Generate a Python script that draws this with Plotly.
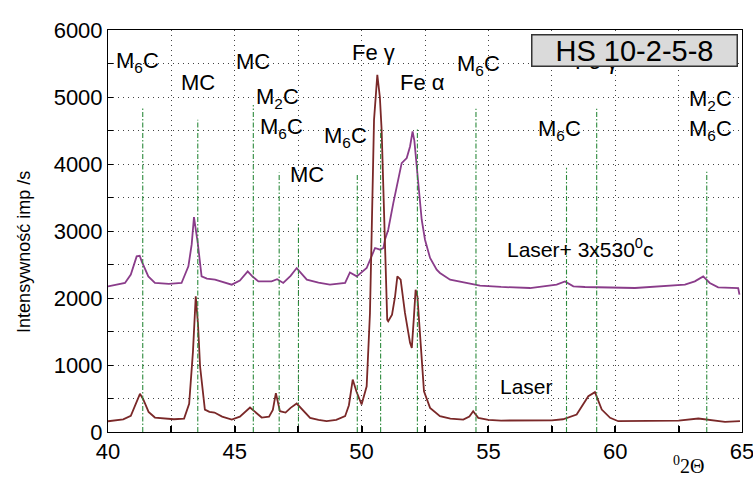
import plotly.graph_objects as go

# ---- data ----
laser_x = [40.0, 40.3, 40.6, 40.9, 41.1, 41.26, 41.4, 41.6, 41.85, 42.2, 42.6, 43.0, 43.2, 43.35, 43.46,
           43.55, 43.63, 43.82, 44.0, 44.2, 44.5, 44.88, 45.2, 45.6, 45.8, 46.06, 46.35, 46.5, 46.62,
           46.7, 46.78, 47.0, 47.2, 47.44, 47.6, 47.97, 48.3, 48.62, 49.0, 49.35, 49.5, 49.65, 49.8,
           50.0, 50.2, 50.33, 50.4, 50.49, 50.62, 50.72, 50.79, 50.92, 51.01, 51.05, 51.2, 51.32,
           51.41, 51.54, 51.71, 51.91, 51.98, 52.06, 52.13, 52.2, 52.33, 52.46, 52.7, 53.09, 53.5,
           54.01, 54.25, 54.4, 54.6, 55.0, 55.5, 56.5, 57.5, 57.94, 58.48, 58.94, 59.2, 59.47, 59.8,
           60.12, 61.0, 62.0, 62.5, 63.28, 63.67, 64.33, 64.92]
laser_y = [160, 175, 190, 240, 420, 570, 480, 300, 216, 200, 190, 200, 420, 1200, 2025,
           1600, 981, 335, 300, 290, 230, 186, 230, 365, 300, 216, 230, 330, 580,
           420, 310, 290, 360, 425, 360, 211, 180, 161, 180, 236, 400, 783, 600,
           410, 683, 1777, 3019, 4659, 5330, 5000, 4510, 3019, 1677, 1652, 1750, 2025,
           2323, 2273, 1777, 1330, 1255, 1700, 2124, 2025, 1279, 608, 360, 236, 200,
           186, 230, 310, 211, 180, 171, 171, 175, 190, 261, 534, 594, 335, 211,
           161, 165, 161, 170, 201, 186, 152, 161]

treated_x = [40.0, 40.67, 40.9, 41.13, 41.25, 41.33, 41.59, 41.85, 42.4, 42.9, 43.17, 43.3, 43.39,
             43.54, 43.69, 43.9, 44.22, 44.5, 44.88, 45.2, 45.51, 45.7, 45.93, 46.45, 46.67, 46.91,
             47.2, 47.44, 47.84, 48.3, 48.75, 49.35, 49.54, 49.81, 50.2, 50.53, 50.73, 50.86, 50.92,
             51.05, 51.25, 51.58, 51.78, 51.91, 52.01, 52.08, 52.17, 52.37, 52.5, 52.57, 52.7, 52.96,
             53.09, 53.49, 54.14, 54.67, 55.5, 56.64, 57.69, 58.02, 58.35, 58.81, 60.78, 62.75,
             63.14, 63.47, 63.73, 64.06, 64.85, 64.9]
treated_y = [2174, 2224, 2350, 2621, 2630, 2547, 2323, 2224, 2210, 2224, 2472, 2800, 3208,
             2820, 2323, 2290, 2273, 2240, 2199, 2260, 2397, 2320, 2248, 2248, 2280, 2224,
             2330, 2447, 2273, 2230, 2199, 2224, 2382, 2323, 2447, 2746, 2721, 2746, 2870,
             3019, 3417, 4013, 4088, 4261, 4485, 4350, 4013, 3168, 2870, 2770, 2597, 2422,
             2373, 2273, 2224, 2184, 2165, 2149, 2199, 2248, 2174, 2164, 2149, 2199,
             2248, 2323, 2224, 2159, 2149, 2050]

ref_x = [41.37, 43.54, 45.73, 46.75, 47.51, 49.83, 50.75, 52.20, 54.51, 58.08, 59.27, 63.61]
ref_top = [4837, 4659, 4882, 3873, 3123, 3839, 4539, 4539, 4823, 3943, 4823, 3883]

phase_labels = ["M<sub>6</sub>C", "MC", "MC", "M<sub>2</sub>C", "M<sub>6</sub>C", "MC",
                "M<sub>6</sub>C", "Fe γ", "Fe α", "M<sub>6</sub>C", "M<sub>6</sub>C", "Fe γ",
                "M<sub>2</sub>C", "M<sub>6</sub>C"]
phase_x = [41.18, 43.55, 45.72, 46.70, 46.86, 47.85, 49.35, 50.45, 52.42, 54.59, 57.82, 59.28,
           63.74, 63.74]
phase_y = [5523, 5210, 5523, 4987, 4539, 3839, 4405, 5657, 5210, 5478, 4510, 5530, 4957, 4510]

x_ticks = [40 + 2.5 * i for i in range(11)]
x_ticktext = [str(int(v)) if v % 5 == 0 else "" for v in x_ticks]
y_ticks = [500 * i for i in range(13)]
y_ticktext = [str(v) if v % 1000 == 0 else "" for v in y_ticks]

FONT = "Liberation Sans, Arial, sans-serif"

fig = go.Figure()
fig.add_trace(go.Scatter(x=treated_x, y=treated_y, mode="lines",
                         line=dict(color="#8a3c8a", width=1.8), showlegend=False))
fig.add_trace(go.Scatter(x=laser_x, y=laser_y, mode="lines",
                         line=dict(color="#7a2828", width=1.8), showlegend=False))

# reference (card) lines
for rx, rt in zip(ref_x, ref_top):
    fig.add_trace(go.Scatter(x=[rx, rx], y=[0, rt], mode="lines",
                             line=dict(color="#2e8b3e", width=1.1, dash="5px,2px,1.5px,2px"),
                             showlegend=False, hoverinfo="skip"))

annotations = []
for t, ax_, ay_ in zip(phase_labels, phase_x, phase_y):
    annotations.append(dict(x=ax_, y=ay_, xref="x", yref="y", text=t, showarrow=False,
                            xanchor="center", yanchor="middle",
                            font=dict(family=FONT, size=22, color="black")))

annotations.append(dict(x=0.831, y=0.948, xref="paper", yref="paper", text="HS 10-2-5-8",
                        xanchor="center", yanchor="middle",
                        showarrow=False, font=dict(family=FONT, size=29, color="black"),
                        bgcolor="#dadada", bordercolor="#333333", borderwidth=1.5,
                        width=202, height=28, borderpad=1))
annotations.append(dict(x=58.65, y=2751, xref="x", yref="y", text="Laser+ 3x530<sup>0</sup>c",
                        xanchor="center", yanchor="middle",
                        showarrow=False, font=dict(family=FONT, size=21, color="black")))
annotations.append(dict(x=56.52, y=678, xref="x", yref="y", text="Laser",
                        xanchor="center", yanchor="middle",
                        showarrow=False, font=dict(family=FONT, size=21, color="black")))
annotations.append(dict(x=0.915, y=-0.081, xref="paper", yref="paper", text="<sup>0</sup>2Θ",
                        xanchor="center", yanchor="middle",
                        showarrow=False, font=dict(family="Liberation Serif, Times New Roman, serif",
                                                   size=20, color="black")))
annotations.append(dict(x=-0.1325, y=0.448, xref="paper", yref="paper",
                        xanchor="center", yanchor="middle",
                        text="Intensywność imp /s", textangle=-90, showarrow=False,
                        font=dict(family=FONT, size=18, color="black")))

fig.update_layout(
    width=753, height=481,
    margin=dict(l=108, r=11, t=30, b=48.5, autoexpand=False),
    paper_bgcolor="white", plot_bgcolor="white",
    font=dict(family=FONT, size=22, color="black"),
    annotations=annotations,
    showlegend=False,
)
fig.update_xaxes(range=[40, 65], tickvals=x_ticks, ticktext=x_ticktext,
                 ticks="inside", ticklen=6, tickwidth=1.5, tickcolor="black",
                 showline=True, linecolor="black", linewidth=1, mirror=True,
                 showgrid=True, gridcolor="#444444", gridwidth=1, griddash="1px,4px",
                 zeroline=False, tickfont=dict(size=22), ticklabeloverflow="allow",
                 automargin=False)
fig.update_yaxes(range=[0, 6000], tickvals=y_ticks, ticktext=y_ticktext,
                 ticks="inside", ticklen=5, tickwidth=1, tickcolor="black",
                 showline=True, linecolor="black", linewidth=1, mirror=True,
                 showgrid=True, gridcolor="#444444", gridwidth=1, griddash="1px,4px",
                 zeroline=False, tickfont=dict(size=22), ticklabeloverflow="allow",
                 automargin=False)

fig.write_html("out.html", config={"displayModeBar": False},
               post_script="document.body.style.margin='0';document.body.style.overflow='hidden';")
